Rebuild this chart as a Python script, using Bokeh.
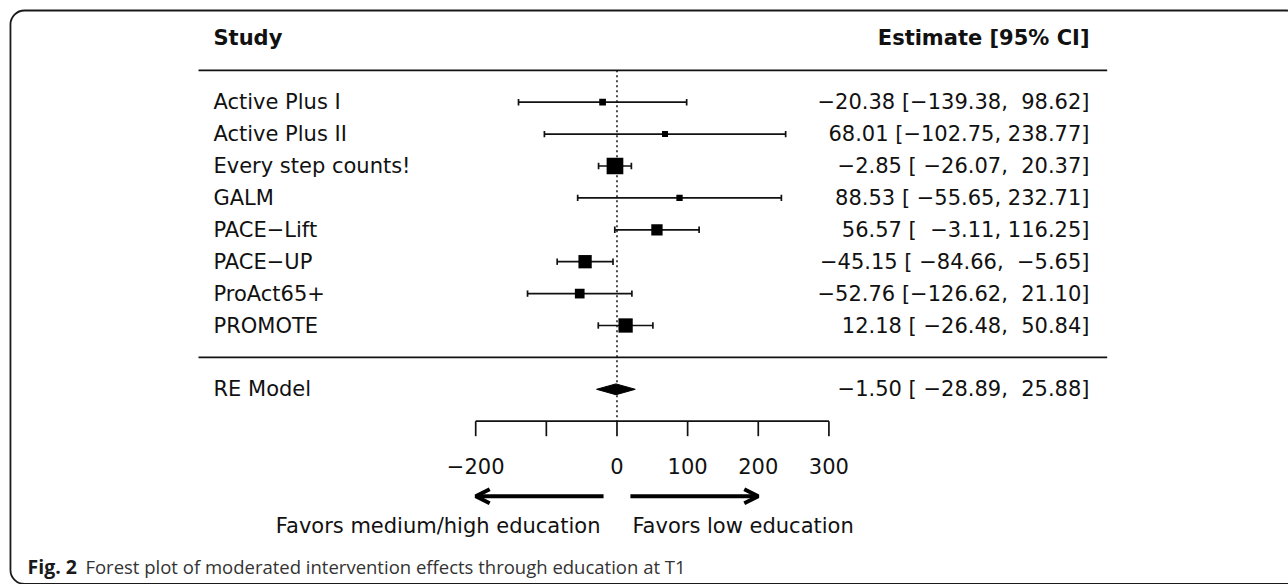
from bokeh.plotting import figure
from bokeh.models import Arrow, OpenHead, BoxAnnotation
from bokeh.core.properties import value
from bokeh.embed import file_html
from bokeh.resources import INLINE

# ---------------- data ----------------
studies = ["Active Plus I", "Active Plus II", "Every step counts!", "GALM",
           "PACE\u2212Lift", "PACE\u2212UP", "ProAct65+", "PROMOTE"]
estimates = [-20.38, 68.01, -2.85, 88.53, 56.57, -45.15, -52.76, 12.18]
ci_low = [-139.38, -102.75, -26.07, -55.65, -3.11, -84.66, -126.62, -26.48]
ci_high = [98.62, 238.77, 20.37, 232.71, 116.25, -5.65, 21.10, 50.84]
re_label = "RE Model"
re_est, re_low, re_high = -1.50, -28.89, 25.88
tick_values = [-200, -100, 0, 100, 200, 300]
tick_labels = ["\u2212200", "", "0", "100", "200", "300"]
left_note = "Favors medium/high education"
right_note = "Favors low education"
caption_bold = "Fig. 2"
caption_text = "Forest plot of moderated intervention effects through education at T1"
marker_px = [6.7, 6.0, 16.7, 6.3, 11.3, 13.3, 9.7, 14.3]

# ---------------- helpers ----------------
NB = "\u00a0"

def fmt(v):
    return f"{v:.2f}".replace("-", "\u2212")

all_lo = ci_low + [re_low]
all_hi = ci_high + [re_high]
w_lo = max(len(fmt(v)) for v in all_lo)
w_hi = max(len(fmt(v)) for v in all_hi)

def ci_text(e, lo, hi):
    slo = fmt(lo)
    shi = fmt(hi)
    slo = NB * (w_lo - len(slo)) + slo
    shi = NB * (w_hi - len(shi)) + shi
    return f"{fmt(e)} [{slo}, {shi}]"

est_texts = [ci_text(e, l, h) for e, l, h in zip(estimates, ci_low, ci_high)]
re_text = ci_text(re_est, re_low, re_high)

k = len(studies)
rows = list(range(k, 0, -1))   # top study at y=k
re_row = -1

FONT = value("DejaVu Sans")
FS = "21px"
INK = "#111111"

p = figure(width=1288, height=584, x_range=(-872.7, 950.6), y_range=(-7.119, 11.188),
           output_backend="svg", toolbar_location=None, min_border=0,
           x_axis_type=None, y_axis_type=None)
p.grid.visible = False
p.outline_line_color = None
p.background_fill_color = "white"
p.border_fill_color = "white"

# outer rounded frame
p.add_layout(BoxAnnotation(left=-858.6, right=968.0, top=10.875, bottom=-7.10,
                           fill_alpha=0, line_color="#1a1a1a", line_alpha=1.0,
                           line_width=1.8, border_radius=14))

x_lab = -571.2
x_right = 668.9
x_line0, x_line1 = -592.4, 693.9

# headers
p.text(x=[x_lab], y=[k + 2], text=["Study"], text_font=FONT, text_font_size=FS,
       text_font_style="bold", text_baseline="middle", text_align="left", text_color=INK)
p.text(x=[x_right], y=[k + 2], text=["Estimate [95% CI]"], text_font=FONT, text_font_size=FS,
       text_font_style="bold", text_baseline="middle", text_align="right", text_color=INK)

# separator lines
p.segment(x0=[x_line0, x_line0], y0=[k + 1, 0], x1=[x_line1, x_line1], y1=[k + 1, 0],
          line_color=INK, line_width=1.8)

# zero reference line
p.segment(x0=[0], y0=[k + 1], x1=[0], y1=[-2], line_color=INK, line_width=1.5,
          line_dash="2 3")

# study labels and estimates
p.text(x=x_lab, y=rows + [re_row], text=studies + [re_label], text_font=FONT,
       text_font_size=FS, text_baseline="middle", text_align="left", text_color=INK)
p.text(x=x_right, y=rows + [re_row], text=est_texts + [re_text], text_font=FONT,
       text_font_size=FS, text_baseline="middle", text_align="right", text_color=INK)

# CI whiskers
cap = 0.1
p.segment(x0=ci_low, y0=rows, x1=ci_high, y1=rows, line_color=INK, line_width=1.7)
p.segment(x0=ci_low, y0=[r - cap for r in rows], x1=ci_low, y1=[r + cap for r in rows],
          line_color=INK, line_width=1.7)
p.segment(x0=ci_high, y0=[r - cap for r in rows], x1=ci_high, y1=[r + cap for r in rows],
          line_color=INK, line_width=1.7)
p.scatter(x=estimates, y=rows, size=marker_px, marker="square", fill_color="black",
          line_color="black", line_width=0)

# summary diamond
dh = 0.17
p.patch(x=[re_low, re_est, re_high, re_est], y=[re_row, re_row + dh, re_row, re_row - dh],
        fill_color="black", line_color="black", line_width=1)

# x axis (drawn at y=-2)
y_ax = -2
p.segment(x0=[tick_values[0]], y0=[y_ax], x1=[tick_values[-1]], y1=[y_ax],
          line_color=INK, line_width=1.7)
p.segment(x0=tick_values, y0=[y_ax] * len(tick_values), x1=tick_values,
          y1=[y_ax - 0.47] * len(tick_values), line_color=INK, line_width=1.7)
p.text(x=tick_values, y=[-3.39] * len(tick_values), text=tick_labels, text_font=FONT,
       text_font_size=FS, text_baseline="middle", text_align="center", text_color=INK)

# direction arrows
y_arr = -4.35
p.add_layout(Arrow(end=OpenHead(size=14, line_width=4, line_color="black"),
                   x_start=-19, y_start=y_arr, x_end=-200, y_end=y_arr,
                   line_width=4, line_color="black"))
p.add_layout(Arrow(end=OpenHead(size=14, line_width=4, line_color="black"),
                   x_start=19, y_start=y_arr, x_end=200, y_end=y_arr,
                   line_width=4, line_color="black"))
p.text(x=[-23.4], y=[-5.3], text=[left_note], text_font=FONT, text_font_size=FS,
       text_baseline="middle", text_align="right", text_color=INK)
p.text(x=[21.9], y=[-5.3], text=[right_note], text_font=FONT, text_font_size=FS,
       text_baseline="middle", text_align="left", text_color=INK)

# caption
p.text(x=[-834.5], y=[-6.55], text=[caption_bold], text_font=value("Open Sans"),
       text_font_size="19.5px", text_font_style="bold", text_baseline="middle",
       text_align="left", text_color="#1a1a1a")
p.text(x=[-752.5], y=[-6.55], text=[caption_text], text_font=value("Open Sans"),
       text_font_size="18.5px", text_baseline="middle", text_align="left",
       text_color="#333333")

open("out.html", "w").write(file_html(p, INLINE))
